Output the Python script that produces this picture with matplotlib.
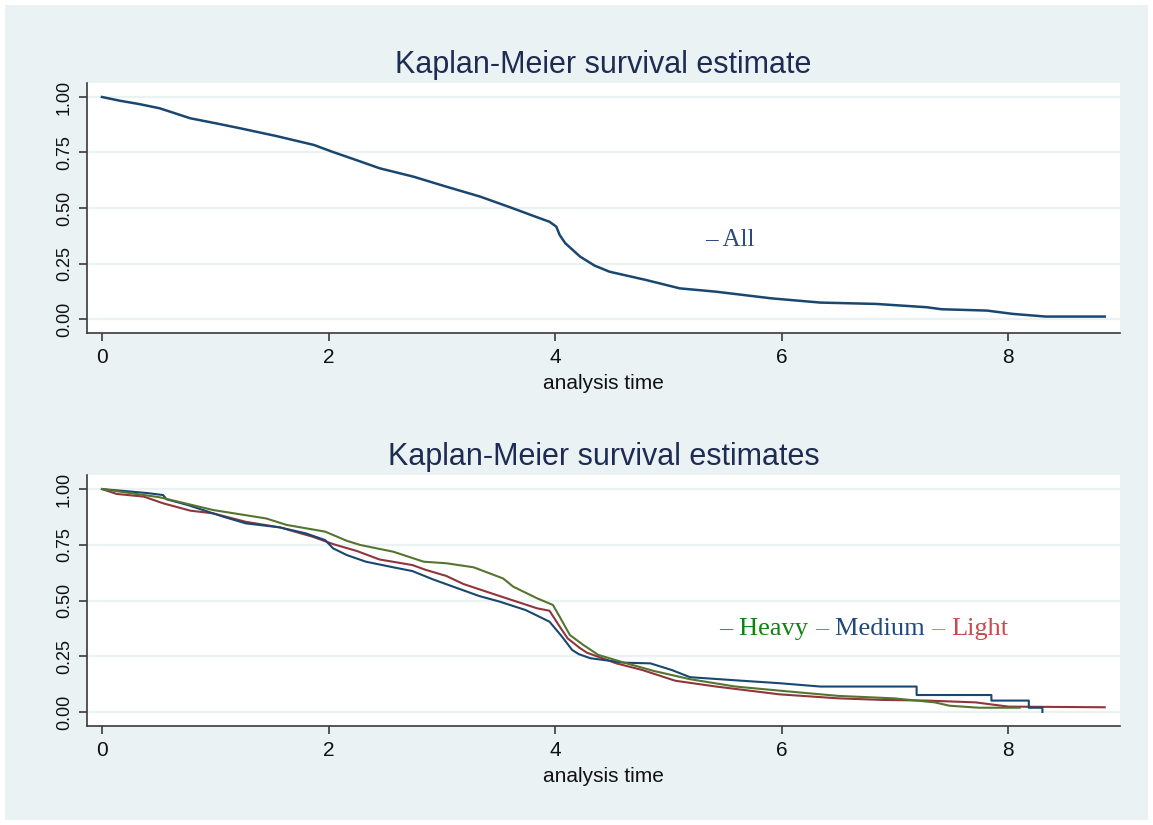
import matplotlib
matplotlib.use("Agg")
import matplotlib.pyplot as plt
from matplotlib.patches import Rectangle

# ---------------- data ----------------
all_t = [0, 0.16, 0.33, 0.51, 0.78, 1.00, 1.22, 1.54, 1.87, 2.04, 2.25, 2.45,
         2.75, 3.04, 3.34, 3.63, 3.81, 3.95, 4.01, 4.04, 4.09, 4.22, 4.35,
         4.48, 4.80, 5.10, 5.42, 5.91, 6.34, 6.83, 7.28, 7.41, 7.81, 8.04,
         8.33, 8.85]
all_s = [1.0, 0.983, 0.968, 0.949, 0.904, 0.882, 0.859, 0.824, 0.784, 0.752,
         0.715, 0.679, 0.641, 0.596, 0.551, 0.498, 0.464, 0.438, 0.416, 0.378,
         0.341, 0.281, 0.240, 0.213, 0.176, 0.138, 0.123, 0.093, 0.074, 0.068,
         0.053, 0.044, 0.038, 0.023, 0.011, 0.011]

heavy_t = [0, 0.51, 0.98, 1.45, 1.63, 1.97, 2.16, 2.28, 2.57, 2.84, 3.04, 3.28,
           3.54, 3.63, 3.84, 3.98, 4.04, 4.13, 4.25, 4.38, 4.61, 4.87, 5.19,
           5.59, 6.08, 6.50, 6.99, 7.35, 7.48, 7.74, 8.10]
heavy_s = [1.0, 0.963, 0.906, 0.868, 0.839, 0.809, 0.768, 0.749, 0.719, 0.674,
           0.667, 0.649, 0.599, 0.562, 0.510, 0.480, 0.427, 0.345, 0.300, 0.256,
           0.221, 0.184, 0.147, 0.114, 0.091, 0.072, 0.061, 0.043, 0.028, 0.019,
           0.019]

medium_t = [0, 0.40, 0.54, 0.57, 0.76, 1.07, 1.27, 1.57, 1.80, 1.97, 2.04, 2.16,
            2.33, 2.57, 2.74, 2.92, 3.10, 3.33, 3.51, 3.74, 3.95, 4.06, 4.15,
            4.21, 4.31, 4.61, 4.84, 5.03, 5.19, 5.65, 5.98, 6.34, 7.19, 7.19,
            7.85, 7.85, 8.18, 8.18, 8.30, 8.30]
medium_s = [1.0, 0.982, 0.973, 0.954, 0.928, 0.876, 0.846, 0.828, 0.801, 0.771,
            0.734, 0.704, 0.674, 0.649, 0.632, 0.595, 0.562, 0.520, 0.495, 0.457,
            0.405, 0.338, 0.278, 0.259, 0.241, 0.221, 0.218, 0.188, 0.156, 0.140,
            0.129, 0.114, 0.114, 0.076, 0.076, 0.051, 0.051, 0.019, 0.019, 0.0]

light_t = [0, 0.13, 0.37, 0.54, 0.78, 0.98, 1.27, 1.57, 1.86, 2.04, 2.25, 2.45,
           2.74, 2.86, 3.04, 3.19, 3.48, 3.69, 3.84, 3.95, 4.04, 4.11, 4.22,
           4.28, 4.54, 4.77, 5.06, 5.42, 5.98, 6.50, 6.89, 7.28, 7.71, 8.00,
           8.85]
light_s = [1.0, 0.978, 0.966, 0.936, 0.903, 0.891, 0.853, 0.828, 0.786, 0.753,
           0.722, 0.684, 0.659, 0.637, 0.610, 0.574, 0.525, 0.490, 0.465, 0.454,
           0.383, 0.330, 0.286, 0.266, 0.218, 0.188, 0.140, 0.114, 0.079, 0.061,
           0.054, 0.051, 0.043, 0.024, 0.021]

x_ticks = [0, 2, 4, 6, 8]
x_ticklabels = ["0", "2", "4", "6", "8"]
y_ticks = [0.0, 0.25, 0.50, 0.75, 1.00]
y_ticklabels = ["0.00", "0.25", "0.50", "0.75", "1.00"]

title_top = "Kaplan-Meier survival estimate"
title_bottom = "Kaplan-Meier survival estimates"
x_label = "analysis time"
legend_top = "All"
group_names = ["Heavy", "Medium", "Light"]

# ---------------- style ----------------
BG = "#eaf2f3"
NAVY = "#1a476f"
GREEN = "#55752f"
MAROON = "#90353b"
TITLE_C = "#1e2b52"
SANS = ["Liberation Sans", "DejaVu Sans"]
SERIF = ["Liberation Serif", "DejaVu Serif"]

plt.rcParams["font.family"] = SANS

W, H = 1153, 825
fig = plt.figure(figsize=(W / 100, H / 100), dpi=100, facecolor="white")
fig.patches.append(Rectangle((5 / W, 5 / H), (W - 10) / W, (H - 10) / H,
                             transform=fig.transFigure, facecolor=BG,
                             edgecolor="none", zorder=-10))


def make_axes(top_px, bottom_px):
    left_px, right_px = 87, 1120
    ax = fig.add_axes([left_px / W, 1 - bottom_px / H,
                       (right_px - left_px) / W, (bottom_px - top_px) / H])
    ax.set_facecolor("white")
    ax.set_xlim(-0.132, 8.985)
    ax.set_ylim(-0.063, 1.063)
    for s in ("top", "right"):
        ax.spines[s].set_visible(False)
    for s in ("left", "bottom"):
        ax.spines[s].set_color("#3a3a3a")
        ax.spines[s].set_linewidth(1.2)
    ax.set_xticks(x_ticks)
    ax.set_xticklabels(x_ticklabels, fontsize=15, color="#111111")
    ax.set_yticks(y_ticks)
    ax.set_yticklabels(y_ticklabels, fontsize=13, color="#111111",
                       rotation=90, va="center")
    ax.tick_params(axis="both", direction="out", length=6, width=1.2,
                   color="#3a3a3a")
    ax.tick_params(axis="x", pad=5)
    ax.tick_params(axis="y", pad=4)
    ax.yaxis.grid(True, color=BG, linewidth=1.6)
    ax.set_axisbelow(True)
    ax.set_xlabel(x_label, fontsize=15, color="#111111", labelpad=5)
    return ax


# ---------------- top panel ----------------
ax1 = make_axes(83, 333)
ax1.plot(all_t, all_s, color=NAVY, linewidth=1.8)
ax1.set_title(title_top, fontsize=22, color=TITLE_C, pad=7)
ax1.text(5.32, 0.356, "\u2013 " + legend_top, family=SERIF, fontsize=18,
         color="#2b4a7e", ha="left", va="center")

# ---------------- bottom panel ----------------
ax2 = make_axes(475, 726)
ax2.plot(light_t, light_s, color=MAROON, linewidth=1.5)
ax2.plot(medium_t, medium_s, color=NAVY, linewidth=1.5)
ax2.plot(heavy_t, heavy_s, color=GREEN, linewidth=1.5)
ax2.set_title(title_bottom, fontsize=22, color=TITLE_C, pad=7)

# coloured inline legend: "– Heavy – Medium – Light"
parts = [("\u2013 ", "#2e9a2e"), (group_names[0] + " ", "#128012"),
         ("\u2013 ", "#6f8db0"), (group_names[1] + " ", "#1f4a80"),
         ("\u2013 ", "#e07a7a"), (group_names[2], "#c94a4a")]
prev = ax2.text(5.45, 0.372, parts[0][0], family=SERIF, fontsize=19,
                color=parts[0][1], ha="left", va="center")
for txt, col in parts[1:]:
    prev = ax2.annotate(txt, xy=(1, 0), xycoords=prev, ha="left",
                        va="bottom", family=SERIF, fontsize=19, color=col)

fig.savefig("out.png", dpi=100, facecolor=fig.get_facecolor())
